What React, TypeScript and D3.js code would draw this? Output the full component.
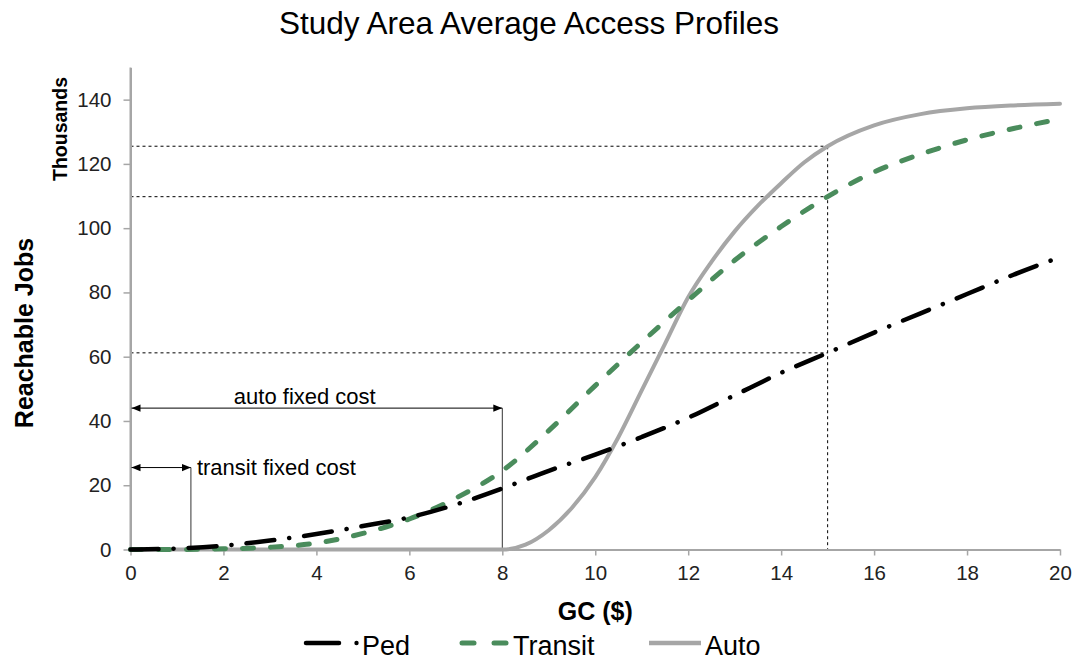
// @ts-nocheck
import { useEffect, useRef } from "react";
import * as d3 from "d3";

// generalized cost ($) sample points
const gc = [0, 1, 2, 3, 4, 5, 6, 7, 8, 9, 10, 11, 12, 13, 14, 15, 16, 17, 18, 19, 20];
// reachable jobs (thousands)
const ped = [0, 0.3, 1.2, 2.8, 4.8, 7.3, 10, 14, 19, 24.5, 29.5, 35, 41, 48, 55, 61.2, 67.5, 73.5, 79.5, 85.5, 91];
const transit = [0, 0, 0.2, 0.7, 2, 5, 9.5, 16, 24.5, 37, 51, 64.5, 77.5, 90, 100.5, 109.8, 117.5, 123, 127.5, 131, 134];
const autoGc = [0, 8, 8.5, 9, 9.5, 10, 10.5, 11, 11.5, 12, 12.5, 13, 13.5, 14, 14.5, 15, 16, 17, 18, 19, 20];
const auto = [0, 0, 1.5, 6, 13, 22.5, 35, 49.5, 64, 78.5, 89.5, 99, 107, 114, 120.5, 125.5, 132, 135.5, 137.3, 138.2, 138.7];

const xTicks = [0, 2, 4, 6, 8, 10, 12, 14, 16, 18, 20];
const yTicks = [0, 20, 40, 60, 80, 100, 120, 140];

// reference read-offs at GC = $15
const refGc = 15;
const refJobs = [125.5, 109.8, 61.2];

// fixed cost annotations
const autoFixed = { gc: 8, level: 44, label: "auto fixed cost" };
const transitFixed = { gc: 1.3, level: 25.5, label: "transit fixed cost" };

const legendItems = ["Ped", "Transit", "Auto"];

const App = () => {
  const ref = useRef(null);

  useEffect(() => {
    const width = 1076;
    const height = 661;
    const font = "'Liberation Sans', Arial, sans-serif";
    d3.select(ref.current).selectAll("*").remove();

    const svg = d3
      .select(ref.current)
      .append("svg")
      .attr("width", width)
      .attr("height", height)
      .style("font-family", font);

    const x = d3.scaleLinear().domain([0, 20]).range([130.5, 1060]);
    const y = d3.scaleLinear().domain([0, 150]).range([549.5, 67.5]);

    const axisColor = "#a6a6a6";

    // reference dotted lines
    refJobs.forEach((v) => {
      svg
        .append("line")
        .attr("x1", x(0))
        .attr("x2", x(refGc))
        .attr("y1", y(v))
        .attr("y2", y(v))
        .attr("stroke", "#000")
        .attr("stroke-width", 1)
        .attr("stroke-dasharray", "3,3");
    });
    svg
      .append("line")
      .attr("x1", x(refGc))
      .attr("x2", x(refGc))
      .attr("y1", y(d3.max(refJobs)))
      .attr("y2", y(0))
      .attr("stroke", "#000")
      .attr("stroke-width", 1)
      .attr("stroke-dasharray", "3,3");

    // axes
    const yAxis = (g) =>
      g
        .attr("transform", `translate(${x(0)},0)`)
        .call(d3.axisLeft(y).tickValues(yTicks).tickSize(7).tickSizeOuter(0).tickPadding(12))
        .call((g) => g.select(".domain").attr("stroke", axisColor).attr("stroke-width", 2))
        .call((g) => g.selectAll(".tick line").attr("stroke", axisColor).attr("stroke-width", 1.5))
        .call((g) =>
          g
            .selectAll(".tick text")
            .attr("font-size", 20.5)
            .attr("font-family", font)
            .attr("fill", "#222")
        );

    const xAxis = (g) =>
      g
        .attr("transform", `translate(0,${y(0)})`)
        .call(d3.axisBottom(x).tickValues(xTicks).tickSize(6).tickSizeOuter(0).tickPadding(10))
        .call((g) => g.select(".domain").attr("stroke", axisColor).attr("stroke-width", 2))
        .call((g) => g.selectAll(".tick line").attr("stroke", axisColor).attr("stroke-width", 1.5))
        .call((g) =>
          g
            .selectAll(".tick text")
            .attr("font-size", 20.5)
            .attr("font-family", font)
            .attr("fill", "#222")
        );

    svg.append("g").call(yAxis);
    svg.append("g").call(xAxis);

    // y domain line up to top
    svg
      .append("line")
      .attr("x1", x(0))
      .attr("x2", x(0))
      .attr("y1", y(150))
      .attr("y2", y(0))
      .attr("stroke", axisColor)
      .attr("stroke-width", 2);

    // arrow marker
    const defs = svg.append("defs");
    ["start", "end"].forEach((k) => {
      defs
        .append("marker")
        .attr("id", "arrow-" + k)
        .attr("viewBox", "0 0 10 10")
        .attr("refX", k === "end" ? 10 : 0)
        .attr("refY", 5)
        .attr("markerWidth", 9)
        .attr("markerHeight", 9)
        .attr("markerUnits", "userSpaceOnUse")
        .attr("orient", "auto")
        .append("path")
        .attr("d", k === "end" ? "M0,1 L10,5 L0,9 Z" : "M10,1 L0,5 L10,9 Z")
        .attr("fill", "#000");
    });

    [autoFixed, transitFixed].forEach((a) => {
      svg
        .append("line")
        .attr("x1", x(0) + 1)
        .attr("x2", x(a.gc))
        .attr("y1", y(a.level))
        .attr("y2", y(a.level))
        .attr("stroke", "#000")
        .attr("stroke-width", 1)
        .attr("marker-start", "url(#arrow-start)")
        .attr("marker-end", "url(#arrow-end)");
      svg
        .append("line")
        .attr("x1", x(a.gc))
        .attr("x2", x(a.gc))
        .attr("y1", y(a.level))
        .attr("y2", y(0))
        .attr("stroke", "#333")
        .attr("stroke-width", 1);
    });

    svg
      .append("text")
      .attr("x", x(3.75))
      .attr("y", y(autoFixed.level) - 4)
      .attr("text-anchor", "middle")
      .attr("font-size", 22)
      .text(autoFixed.label);
    svg
      .append("text")
      .attr("x", x(transitFixed.gc) + 6)
      .attr("y", y(transitFixed.level) + 7)
      .attr("font-size", 22)
      .text(transitFixed.label);

    // series
    const line = d3
      .line()
      .x((d) => x(d[0]))
      .y((d) => y(d[1]))
      .curve(d3.curveMonotoneX);

    const series = [
      { name: "Auto", xs: autoGc, ys: auto, color: "#a6a6a6", dash: null, width: 4 },
      { name: "Transit", xs: gc, ys: transit, color: "#4a8c5c", dash: "11,17", width: 5 },
      { name: "Ped", xs: gc, ys: ped, color: "#000", dash: "28,15,0.1,15", width: 4.5 },
    ];

    series.forEach((s) => {
      svg
        .append("path")
        .datum(s.xs.map((v, i) => [v, s.ys[i]]))
        .attr("fill", "none")
        .attr("stroke", s.color)
        .attr("stroke-width", s.width)
        .attr("stroke-linecap", "round")
        .attr("stroke-dasharray", s.dash)
        .attr("d", line);
    });

    // titles
    svg
      .append("text")
      .attr("x", 529)
      .attr("y", 34)
      .attr("text-anchor", "middle")
      .attr("font-size", 31.5)
      .text("Study Area Average Access Profiles");

    svg
      .append("text")
      .attr("x", (x(0) + x(20)) / 2)
      .attr("y", 620)
      .attr("text-anchor", "middle")
      .attr("font-size", 25)
      .attr("font-weight", "bold")
      .text("GC ($)");

    svg
      .append("text")
      .attr("transform", `translate(33,${333}) rotate(-90)`)
      .attr("text-anchor", "middle")
      .attr("font-size", 25)
      .attr("font-weight", "bold")
      .text("Reachable Jobs");

    svg
      .append("text")
      .attr("transform", `translate(67,${129}) rotate(-90)`)
      .attr("text-anchor", "middle")
      .attr("font-size", 19.5)
      .attr("font-weight", "bold")
      .text("Thousands");

    // legend
    const ly = 643;
    const ty = 654.5;
    const lg = svg.append("g").attr("font-size", 27);
    // Ped
    lg.append("line")
      .attr("x1", 306).attr("x2", 339).attr("y1", ly).attr("y2", ly)
      .attr("stroke", "#000").attr("stroke-width", 4.5).attr("stroke-linecap", "round");
    lg.append("circle").attr("cx", 356.5).attr("cy", ly).attr("r", 2.2).attr("fill", "#000");
    lg.append("text").attr("x", 362).attr("y", ty).text(legendItems[0]);
    // Transit
    lg.append("line")
      .attr("x1", 462).attr("x2", 474).attr("y1", ly).attr("y2", ly)
      .attr("stroke", "#4a8c5c").attr("stroke-width", 5).attr("stroke-linecap", "round");
    lg.append("line")
      .attr("x1", 494).attr("x2", 506).attr("y1", ly).attr("y2", ly)
      .attr("stroke", "#4a8c5c").attr("stroke-width", 5).attr("stroke-linecap", "round");
    lg.append("text").attr("x", 513).attr("y", ty).text(legendItems[1]);
    // Auto
    lg.append("line")
      .attr("x1", 649).attr("x2", 701).attr("y1", ly).attr("y2", ly)
      .attr("stroke", "#a6a6a6").attr("stroke-width", 4.5);
    lg.append("text").attr("x", 705).attr("y", ty).text(legendItems[2]);
  }, []);

  return (
    <div style={{ position: "absolute", left: 0, top: 0, width: 1076, height: 661, background: "#fff" }}>
      <div ref={ref}></div>
    </div>
  );
};

export default App;
